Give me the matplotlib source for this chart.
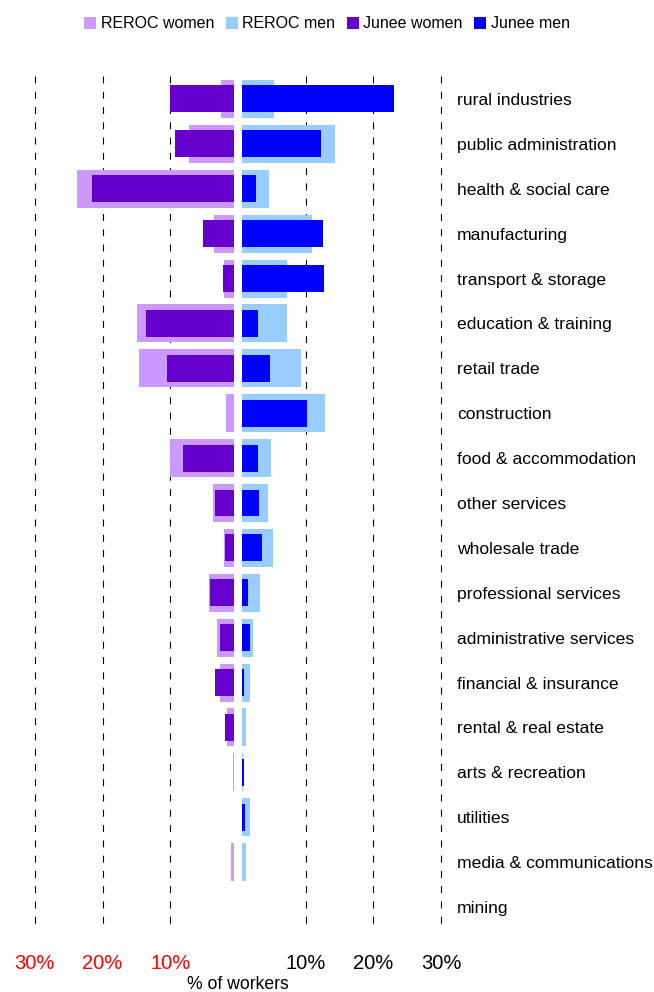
import matplotlib
matplotlib.use("Agg")
import matplotlib.pyplot as plt
from matplotlib.patches import Patch
import numpy as np

plt.rcParams['font.family'] = ['Liberation Sans', 'DejaVu Sans']
plt.rcParams['lines.scale_dashes'] = False

categories = ["rural industries", "public administration", "health & social care",
              "manufacturing", "transport & storage", "education & training",
              "retail trade", "construction", "food & accommodation", "other services",
              "wholesale trade", "professional services", "administrative services",
              "financial & insurance", "rental & real estate", "arts & recreation",
              "utilities", "media & communications", "mining"]

reroc_women = [2.5, 7.2, 23.8, 3.5, 2.1, 14.9, 14.6, 1.8, 10.0, 3.7, 2.1, 4.3, 3.1,
               2.7, 1.6, 0.74, 0.3, 1.0, 0.3]
junee_women = [10.05, 9.3, 21.6, 5.2, 2.2, 13.6, 10.5, 0.4, 8.1, 3.4, 1.9, 4.1, 2.7,
               3.4, 1.9, 0.65, 0.2, 0.0, 0.0]
reroc_men = [5.3, 14.3, 4.6, 10.9, 7.2, 7.2, 9.3, 12.9, 4.9, 4.4, 5.2, 3.3, 2.2,
             1.8, 1.2, 0.74, 1.8, 1.2, 0.5]
junee_men = [23.05, 12.3, 2.7, 12.6, 12.7, 3.0, 4.7, 10.2, 3.0, 3.1, 3.5, 1.5, 1.8,
             0.9, 0.55, 0.9, 1.0, 0.0, 0.0]

tick_values = [-30, -20, -10, 10, 20, 30]
tick_labels = ["30%", "20%", "10%", "10%", "20%", "30%"]

c_rw, c_rm, c_jw, c_jm = "#CC99FF", "#99CCFF", "#6600CC", "#0000FF"

fig = plt.figure(figsize=(6.54, 9.92), dpi=100)
ax = fig.add_axes([0.04297, 0.0630, 0.6419, 0.8599])

y = np.arange(len(categories))
ax.barh(y, -np.array(reroc_women), height=0.846, color=c_rw, zorder=2, linewidth=0)
ax.barh(y, np.array(reroc_men), height=0.846, color=c_rm, zorder=2, linewidth=0)
ax.barh(y, -np.array(junee_women), height=0.60, color=c_jw, zorder=2.5, linewidth=0)
ax.barh(y, np.array(junee_men), height=0.60, color=c_jm, zorder=2.5, linewidth=0)

# white gap separating the two sides
ax.axvspan(-0.59, 0.59, color="white", zorder=3, linewidth=0)

for v in tick_values:
    ax.plot([v, v], [-0.5, len(categories) - 0.5], color="black", lw=0.8,
            linestyle=(0, (5.0, 6.0)), zorder=1)

ax.set_xlim(-31, 31)
ax.set_ylim(len(categories) - 0.5, -0.5)

for s in ax.spines.values():
    s.set_visible(False)

ax.set_yticks(y)
ax.set_yticklabels(categories, fontsize=12.6)
ax.yaxis.tick_right()
ax.tick_params(axis="y", length=0, pad=6.5)

ax.set_xticks(tick_values)
ax.set_xticklabels(tick_labels, fontsize=14.5)
ax.tick_params(axis="x", length=0, pad=17.5)
for lab, v in zip(ax.get_xticklabels(), tick_values):
    lab.set_color("red" if v < 0 else "black")

ax.set_xlabel("% of workers", fontsize=12.7, labelpad=2)

handles = [Patch(facecolor=c_rw, label="REROC women"),
           Patch(facecolor=c_rm, label="REROC men"),
           Patch(facecolor=c_jw, label="Junee women"),
           Patch(facecolor=c_jm, label="Junee men")]
fig.legend(handles=handles, loc="center", bbox_to_anchor=(0.5, 1 - 24 / 992),
           ncol=4, frameon=False, fontsize=11.5, handlelength=0.75,
           handleheight=0.75, handletextpad=0.3, columnspacing=0.7,
           borderpad=0, borderaxespad=0)

fig.savefig("out.png", dpi=100, facecolor="white")
